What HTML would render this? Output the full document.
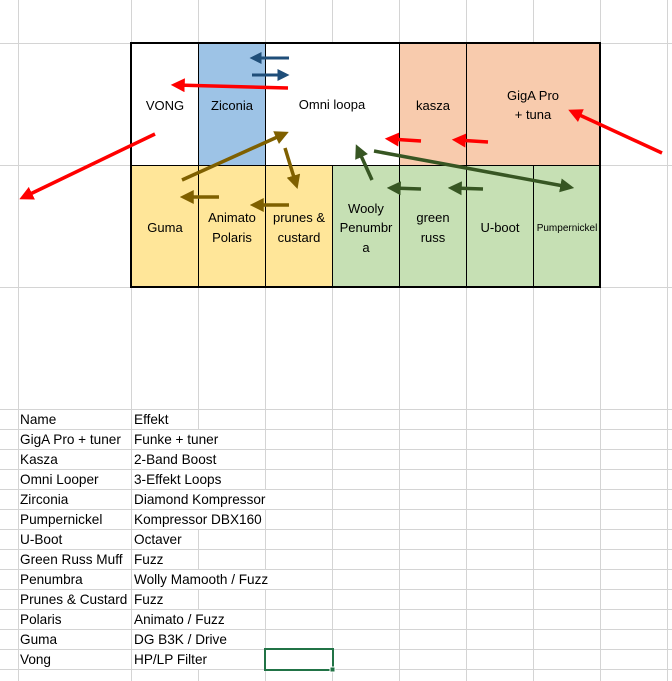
<!DOCTYPE html>
<html><head><meta charset="utf-8"><style>
html,body{margin:0;padding:0;background:#fff;width:672px;height:681px;overflow:hidden}
svg{display:block;font-family:"Liberation Sans",Arial,sans-serif}
</style></head><body>
<svg width="672" height="681" viewBox="0 0 672 681" xmlns="http://www.w3.org/2000/svg">
<g stroke="#d4d4d4" stroke-width="1">
<line x1="18.5" y1="0" x2="18.5" y2="681"/>
<line x1="131.5" y1="0" x2="131.5" y2="681"/>
<line x1="198.5" y1="0" x2="198.5" y2="681"/>
<line x1="265.5" y1="0" x2="265.5" y2="681"/>
<line x1="332.5" y1="0" x2="332.5" y2="681"/>
<line x1="399.5" y1="0" x2="399.5" y2="681"/>
<line x1="466.5" y1="0" x2="466.5" y2="681"/>
<line x1="533.5" y1="0" x2="533.5" y2="681"/>
<line x1="600.5" y1="0" x2="600.5" y2="681"/>
<line x1="667.5" y1="0" x2="667.5" y2="681"/>
<line x1="0" y1="43.5" x2="672" y2="43.5"/>
<line x1="0" y1="165.5" x2="672" y2="165.5"/>
<line x1="0" y1="287.5" x2="672" y2="287.5"/>
<line x1="0" y1="409.5" x2="672" y2="409.5"/>
<line x1="0" y1="429.5" x2="672" y2="429.5"/>
<line x1="0" y1="449.5" x2="672" y2="449.5"/>
<line x1="0" y1="469.5" x2="672" y2="469.5"/>
<line x1="0" y1="489.5" x2="672" y2="489.5"/>
<line x1="0" y1="509.5" x2="672" y2="509.5"/>
<line x1="0" y1="529.5" x2="672" y2="529.5"/>
<line x1="0" y1="549.5" x2="672" y2="549.5"/>
<line x1="0" y1="569.5" x2="672" y2="569.5"/>
<line x1="0" y1="589.5" x2="672" y2="589.5"/>
<line x1="0" y1="609.5" x2="672" y2="609.5"/>
<line x1="0" y1="629.5" x2="672" y2="629.5"/>
<line x1="0" y1="649.5" x2="672" y2="649.5"/>
<line x1="0" y1="669.5" x2="672" y2="669.5"/>
</g>
<rect x="131" y="43" width="469" height="244" fill="#fff"/>
<rect x="198" y="43" width="67" height="122" fill="#9dc3e6"/>
<rect x="399" y="43" width="201" height="122" fill="#f8cbad"/>
<rect x="131" y="165" width="201" height="122" fill="#ffe699"/>
<rect x="332" y="165" width="268" height="122" fill="#c6e0b4"/>
<g stroke="#000" stroke-width="1">
<line x1="198.5" y1="43" x2="198.5" y2="287"/>
<line x1="265.5" y1="43" x2="265.5" y2="287"/>
<line x1="332.5" y1="165" x2="332.5" y2="287"/>
<line x1="399.5" y1="43" x2="399.5" y2="287"/>
<line x1="466.5" y1="43" x2="466.5" y2="287"/>
<line x1="533.5" y1="165" x2="533.5" y2="287"/>
<line x1="131" y1="165.5" x2="600" y2="165.5"/>
</g>
<rect x="131" y="43" width="469" height="244" fill="none" stroke="#000" stroke-width="2"/>
<g font-size="13" fill="#000" text-anchor="middle">
<text x="165" y="110">VONG</text>
<text x="232" y="110">Ziconia</text>
<text x="332" y="109">Omni loopa</text>
<text x="433" y="110">kasza</text>
<text x="533" y="100">GigA Pro</text>
<text x="533" y="119">+ tuna</text>
<text x="165" y="232">Guma</text>
<text x="232" y="222">Animato</text>
<text x="232" y="242">Polaris</text>
<text x="299" y="222">prunes &amp;</text>
<text x="299" y="242">custard</text>
<text x="366" y="213">Wooly</text>
<text x="366" y="232">Penumbr</text>
<text x="366" y="252">a</text>
<text x="433" y="222">green</text>
<text x="433" y="242">russ</text>
<text x="500" y="232">U-boot</text>
<text x="567" y="231" font-size="10">Pumpernickel</text>
</g>
<defs>
<marker id="hr" markerWidth="4" markerHeight="4" refX="2.5" refY="2" orient="auto" markerUnits="strokeWidth"><path d="M0,0 L4,2 L0,4 z" fill="#ff0000"/></marker>
<marker id="hb" markerWidth="4" markerHeight="4" refX="2.5" refY="2" orient="auto" markerUnits="strokeWidth"><path d="M0,0 L4,2 L0,4 z" fill="#1f4e79"/></marker>
<marker id="hn" markerWidth="4" markerHeight="4" refX="2.5" refY="2" orient="auto" markerUnits="strokeWidth"><path d="M0,0 L4,2 L0,4 z" fill="#7f6000"/></marker>
<marker id="hg" markerWidth="4" markerHeight="4" refX="2.5" refY="2" orient="auto" markerUnits="strokeWidth"><path d="M0,0 L4,2 L0,4 z" fill="#375623"/></marker>
</defs>
<g fill="none">
<line x1="289" y1="58" x2="254" y2="58" stroke="#1f4e79" stroke-width="3" marker-end="url(#hb)"/>
<line x1="252" y1="75" x2="285" y2="75" stroke="#1f4e79" stroke-width="3" marker-end="url(#hb)"/>
<line x1="288" y1="88" x2="176" y2="85" stroke="#ff0000" stroke-width="3.5" marker-end="url(#hr)"/>
<line x1="155" y1="134" x2="24" y2="197" stroke="#ff0000" stroke-width="3.5" marker-end="url(#hr)"/>
<line x1="662" y1="153" x2="573" y2="112" stroke="#ff0000" stroke-width="3.5" marker-end="url(#hr)"/>
<line x1="421" y1="141" x2="390" y2="139" stroke="#ff0000" stroke-width="3.5" marker-end="url(#hr)"/>
<line x1="488" y1="142" x2="457" y2="140" stroke="#ff0000" stroke-width="3.5" marker-end="url(#hr)"/>
<line x1="182" y1="180" x2="284" y2="134" stroke="#7f6000" stroke-width="3.5" marker-end="url(#hn)"/>
<line x1="285" y1="148" x2="296" y2="184" stroke="#7f6000" stroke-width="3.5" marker-end="url(#hn)"/>
<line x1="219" y1="197" x2="185" y2="197" stroke="#7f6000" stroke-width="3.5" marker-end="url(#hn)"/>
<line x1="289" y1="205" x2="255" y2="205" stroke="#7f6000" stroke-width="3.5" marker-end="url(#hn)"/>
<line x1="372" y1="180" x2="358" y2="149" stroke="#375623" stroke-width="3.5" marker-end="url(#hg)"/>
<line x1="374" y1="151" x2="569" y2="187" stroke="#375623" stroke-width="3.5" marker-end="url(#hg)"/>
<line x1="421" y1="189" x2="392" y2="188" stroke="#375623" stroke-width="3.5" marker-end="url(#hg)"/>
<line x1="483" y1="189" x2="453" y2="188" stroke="#375623" stroke-width="3.5" marker-end="url(#hg)"/>
</g>
<g fill="#fff">
<rect x="132" y="490" width="141" height="19"/>
<rect x="132" y="510" width="129" height="19"/>
<rect x="132" y="570" width="145" height="19"/>
<rect x="132" y="430" width="94" height="19"/>
<rect x="132" y="450" width="87" height="19"/>
<rect x="132" y="470" width="95" height="19"/>
<rect x="132" y="610" width="99" height="19"/>
<rect x="132" y="630" width="79" height="19"/>
<rect x="132" y="650" width="79" height="19"/>
</g>
<g font-size="13.6" fill="#000">
<text x="20" y="424">Name</text><text x="134" y="424">Effekt</text>
<text x="20" y="444">GigA Pro + tuner</text><text x="134" y="444">Funke + tuner</text>
<text x="20" y="464">Kasza</text><text x="134" y="464">2-Band Boost</text>
<text x="20" y="484">Omni Looper</text><text x="134" y="484">3-Effekt Loops</text>
<text x="20" y="504">Zirconia</text><text x="134" y="504">Diamond Kompressor</text>
<text x="20" y="524">Pumpernickel</text><text x="134" y="524">Kompressor DBX160</text>
<text x="20" y="544">U-Boot</text><text x="134" y="544">Octaver</text>
<text x="20" y="564">Green Russ Muff</text><text x="134" y="564">Fuzz</text>
<text x="20" y="584">Penumbra</text><text x="134" y="584">Wolly Mamooth / Fuzz</text>
<text x="20" y="604">Prunes &amp; Custard</text><text x="134" y="604">Fuzz</text>
<text x="20" y="624">Polaris</text><text x="134" y="624">Animato / Fuzz</text>
<text x="20" y="644">Guma</text><text x="134" y="644">DG B3K / Drive</text>
<text x="20" y="664">Vong</text><text x="134" y="664">HP/LP Filter</text>
</g>
<rect x="265" y="649" width="68" height="21" fill="none" stroke="#217346" stroke-width="2"/>
<rect x="330" y="667" width="5" height="5" fill="#217346" stroke="#fff" stroke-width="1"/>
</svg>
</body></html>
